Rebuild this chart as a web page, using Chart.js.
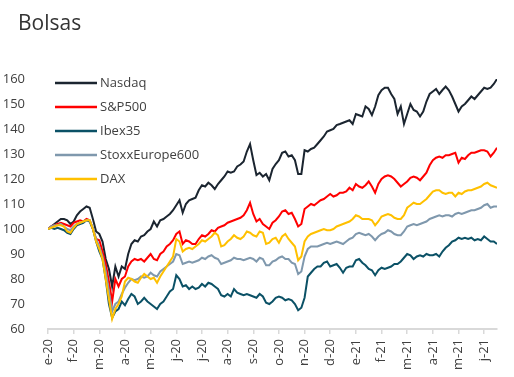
<!DOCTYPE html>
<html>
<head>
<meta charset="utf-8">
<script src="https://cdn.jsdelivr.net/npm/chart.js@4"></script>
<style>
html, body { margin: 0; padding: 0; background: #fff; }
</style>
</head>
<body>
<canvas id="bolsas" width="514" height="377"></canvas>
<script>
// Etiquetas de los meses (eje X) y valores (base 100), 8 lecturas por mes
var titulo = 'Bolsas';
var meses = ['e-20','f-20','m-20','a-20','m-20','j-20','j-20','a-20','s-20','o-20','n-20','d-20',
             'e-21','f-21','m-21','a-21','m-21','j-21'];
var puntosPorMes = 8;

var nasdaq = [
    100,101,102,103,104,104,103.5,102,
    103,105.5,107,108,109,108.5,104,99,
    98,95,88,84,77,85,81,85,
    84,90,94,95.5,95,97,97.5,99,
    100,103,101,103.5,104,105,106,107.5,
    109.5,111.5,106.5,110,111.5,112,112.5,115.5,
    117.5,117,118.5,117.5,116,118,119.5,121,
    123,122.5,123,125,125.8,127,131,134,
    127.5,121.6,122.5,121,122,119.5,124,126,
    127.5,130.5,131,129,129.5,127.5,122,122,
    131.5,131,132,132.5,134,135.5,137,139,
    139.5,140,141.6,142,142.5,143,143.5,142,
    146,145.5,145,149,148,145.6,149,153.5,
    155.5,156.5,156.5,154,152,146,149,142,
    146,150,147.6,147,145,147,151,154,
    155,156,154,155.6,157,155.5,153,150,
    147,149,150,151.5,153,152,153.5,155,
    156.5,156,156.5,158,160];
var sp500 = [
    100,101,101.5,102,102.5,102,101.5,101,
    102.5,103,103.5,103,104,103.5,100,96,
    95.5,91,86,79,71,80,77,80,
    81,85,87,88,87.5,88,87,88.5,
    90,88,87.5,90,91,93,94,95.5,
    98,99,94,95.5,95,94,94,96,
    97.5,97,98,99.5,99,100.5,101,101.5,
    102.5,103,103.5,104,104.5,105.5,107.5,110.5,
    106,103,104,102,101,100,102.5,103.5,
    105,107,107.5,106,106.5,104,101,102,
    108,109,110,109.5,110.5,111.5,112,113,
    114,113,113.5,114.5,114.5,115,116.5,115.5,
    118,117,116.5,117.5,119,117,114.5,118,
    120,121,121.5,121,120,118.5,117,118,
    119,120.5,121,120.5,119.5,121,122.5,125.5,
    127.5,128.5,129,128.5,129.5,129.5,130,130.5,
    126.5,128.5,128,129.5,130.5,130.5,131,131.5,
    131.5,131,129,130.5,132.5];
var ibex35 = [
    100,100.5,100,100.5,100,99.5,98.5,98,
    100,101.5,102,102.5,103.5,103,100,95,
    91,88,80,70,64.5,67,68,71,
    69.5,72,74,73,70,71,72.5,71,
    70,69,68,70,71,73,75,76,
    81.5,80,77,77.5,76,77,76,76.5,
    78,77,78.5,78,77,76,73.5,73,
    74,73,76,74.5,74,73.5,74,73.5,
    73,72.5,74,73,70.5,70,71,72.5,
    73,72.5,71.5,72,71.5,70,67.5,68.5,
    72.5,81,82.5,84,85,85,86.5,87,
    85,85.5,86,84.5,82.5,84.5,85,85,
    87.5,88,86.5,85.5,84,83.5,81.5,83.5,
    84.5,84,84.5,85,86,86,87,88.5,
    90,89.5,88,89,89.5,89,90,89.5,
    89.5,90,89,91,92.5,93.5,95,95.5,
    96.5,96,96.5,96,96.5,95.5,96,95.5,
    97,96,95,95,94];
var stoxx600 = [
    100,101,101.5,101.5,102,101,100,99.5,
    101,102,102.5,103,103.5,103.5,100.5,96,
    93,89,83,75,67,70,71,74,
    76.5,78.5,80,79.5,80,81,80.5,81,
    82.5,81.5,81,83,84,85,86,87,
    90,89.5,86,86.5,87,86.5,87,87.5,
    88.5,88,89,89.5,88.5,88,86,86.5,
    87,87.5,88.5,88,88,87.5,88,88.5,
    88,87,88.5,88,85.5,85.5,87,87.5,
    88.5,89,88,88,86.5,86,82,83,
    89,92,93,93,93,93.5,94,94.5,
    94,94.5,95,94.5,94,95,96,96.5,
    98,98.5,98,97.5,98,97,95.5,97,
    98,98.5,99.5,99,98,97.5,97.5,99,
    101,101.5,102,101.5,102,102.5,103,104,
    104.5,105,105.5,105,105.5,105.5,105,106,
    106.5,106,106.5,107,107.5,107.5,108,108.5,
    109.5,110,108.5,109,109];
var dax = [
    100,100.5,101,101.5,101.5,101,99,98.5,
    100.5,102,102.5,103,103.5,103.5,100,95,
    92,88,80,72,64,68,70,73,
    79,80.5,80,79,78.5,80.5,82,81,
    80,80.5,78.5,81,83,85,87,89,
    96,95,91,92,92.5,92,93,94,
    95.5,95,96,97,98.5,97.5,93,93.5,
    95,96,97.5,96.5,96,97,99,98.5,
    97.5,97,99,98.5,94,94.5,96,96.5,
    94.5,97,98,96,94.5,93,87.5,89,
    95,97,98,98.5,99,99.5,100,99.5,
    99.5,100,101,101.5,102,102.5,103,104,
    105.5,105,104,104,104,103.5,101.5,103,
    105,105.5,106,105.5,104.5,104,104,105.5,
    108.5,109.5,110.5,110,110,111,112,113.5,
    115,115.5,115.5,114.5,114,114.5,114.5,113,
    114.5,114,115,115.5,115.5,116,116.5,117,
    118,118.5,117.5,117,116.5];

var series = [
    { label: 'Nasdaq', valores: nasdaq, color: '#1b2530' },
    { label: 'S&P500', valores: sp500, color: '#ff0000' },
    { label: 'Ibex35', valores: ibex35, color: '#0b5166' },
    { label: 'StoxxEurope600', valores: stoxx600, color: '#7f98ad' },
    { label: 'DAX', valores: dax, color: '#ffc000' }
];

var fuente = '"Open Sans", sans-serif';

// Título y leyenda (dentro del área del gráfico, arriba a la izquierda)
var rotulos = {
    id: 'rotulos',
    afterDraw: (chart) => {
        var ctx = chart.ctx;
        var area = chart.chartArea;
        ctx.save();
        ctx.fillStyle = '#333333';
        ctx.font = '21px ' + fuente;
        ctx.textBaseline = 'alphabetic';
        ctx.fillText(titulo, 18, 30);

        ctx.font = '13px ' + fuente;
        ctx.textBaseline = 'middle';
        chart.data.datasets.forEach((ds, i) => {
            var y = area.top + 4 + i * 24;
            ctx.strokeStyle = ds.borderColor;
            ctx.lineWidth = 2.5;
            ctx.beginPath();
            ctx.moveTo(area.left + 7, y);
            ctx.lineTo(area.left + 49, y);
            ctx.stroke();
            ctx.fillStyle = '#404040';
            ctx.fillText(ds.label, area.left + 52, y);
        });
        ctx.restore();
    }
};

var datasets = series.map((s, i) => ({
    label: s.label,
    data: s.valores.map((v, k) => ({ x: k / puntosPorMes, y: v })),
    borderColor: s.color,
    backgroundColor: s.color,
    borderWidth: 2,
    pointRadius: 0,
    tension: 0,
    order: series.length - i
}));

var ctx = document.getElementById('bolsas').getContext('2d');
new Chart(ctx, {
    type: 'line',
    data: { datasets: datasets },
    options: {
        responsive: false,
        animation: false,
        layout: { padding: { left: 0, right: 17, top: 79, bottom: 0 } },
        plugins: {
            legend: { display: false },
            tooltip: { enabled: false },
            title: { display: false }
        },
        scales: {
            x: {
                type: 'linear',
                min: 0,
                max: 17.5,
                afterFit: (scale) => { scale.height = 48; },
                grid: { display: true, drawOnChartArea: false, drawTicks: true, tickLength: 5, color: '#d9d9d9', lineWidth: 1.5 },
                border: { display: true, color: '#d9d9d9', width: 2 },
                ticks: {
                    stepSize: 1,
                    includeBounds: false,
                    autoSkip: false,
                    minRotation: 90,
                    maxRotation: 90,
                    padding: 5,
                    color: '#404040',
                    font: { family: fuente, size: 13 },
                    callback: (v) => meses[v] || ''
                }
            },
            y: {
                min: 60,
                max: 160,
                afterFit: (scale) => { scale.width = 48; },
                grid: { display: false },
                border: { display: false },
                ticks: {
                    stepSize: 10,
                    padding: 15,
                    color: '#404040',
                    font: { family: fuente, size: 13 }
                }
            }
        }
    },
    plugins: [rotulos]
});
</script>
</body>
</html>
